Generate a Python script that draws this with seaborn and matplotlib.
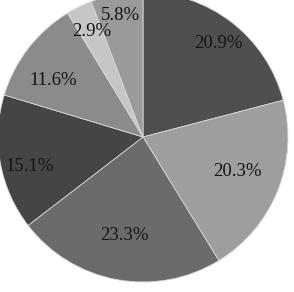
import matplotlib
matplotlib.use("Agg")
import matplotlib.pyplot as plt
import seaborn as sns
import numpy as np

# data
labels = ["A", "B", "C", "D", "E", "F", "G"]
values = [20.9, 20.3, 23.3, 15.1, 11.6, 2.9, 5.8]
colors = ["#4f4f4f", "#9e9e9e", "#6b6b6b", "#454545", "#8b8b8b", "#c6c6c6", "#9a9a9a"]
# radial position / angular nudge of each percentage label
label_radius = [0.83, 0.69, 0.69, 0.81, 0.73, 0.81, 0.85]
label_nudge = [-1.0, 2.0, 0.0, 4.0, 5.5, 0.0, 0.0]

sns.set_theme(style="white")
plt.rcParams["font.family"] = ["Liberation Serif", "DejaVu Serif"]

fig = plt.figure(figsize=(2.94, 2.92), dpi=100)
ax = fig.add_axes([0, 0, 1, 1])

wedges, texts, autotexts = ax.pie(
    values, colors=colors, startangle=90, counterclock=False,
    autopct="%.1f%%", pctdistance=0.75,
    wedgeprops=dict(edgecolor="#d8d8d8", linewidth=0.6),
    textprops=dict(fontsize=13.5, color="#151515"),
)
for w, t, r, d in zip(wedges, autotexts, label_radius, label_nudge):
    ang = np.deg2rad((w.theta1 + w.theta2) / 2 + d)
    t.set_position((r * np.cos(ang), r * np.sin(ang)))

ax.set_aspect("auto")
ax.set_xlim(-143 / 145, (294 - 143) / 145)
ax.set_ylim(-(292 - 137) / 145, 137 / 145)
ax.axis("off")
fig.savefig("out.png", dpi=100, facecolor="white")
